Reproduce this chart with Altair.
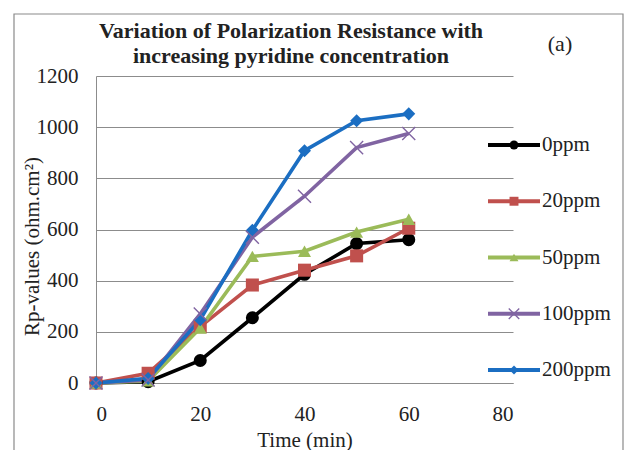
import altair as alt
import pandas as pd

# Polarization resistance (Rp) over time for each pyridine concentration
time_min = [0, 10, 20, 30, 40, 50, 60]
rp_0ppm = [0, 5, 88, 255, 425, 545, 560]
rp_20ppm = [0, 38, 220, 383, 441, 497, 605]
rp_50ppm = [0, 8, 215, 495, 515, 590, 640]
rp_100ppm = [0, 12, 270, 570, 730, 920, 975]
rp_200ppm = [0, 18, 247, 597, 908, 1025, 1052]

series_names = ["0ppm", "20ppm", "50ppm", "100ppm", "200ppm"]
series_values = [rp_0ppm, rp_20ppm, rp_50ppm, rp_100ppm, rp_200ppm]
series_colors = ["#000000", "#C0504D", "#9BBB59", "#8064A2", "#1B6EC2"]
x_cross = "M-1,-1L1,1M1,-1L-1,1"
series_shapes = ["circle", "square", "triangle-up", x_cross, "diamond"]
marker_sizes = [170, 170, 190, 300, 230]

rows = []
for name, vals in zip(series_names, series_values):
    for t, v in zip(time_min, vals):
        rows.append({"series": name, "time": t, "rp": v})
df = pd.DataFrame(rows)
legend_df = pd.DataFrame({"series": series_names})

FONT = "Liberation Serif"
GRID = "#8c8c8c"
INK = "#222222"

color = alt.Color("series:N", scale=alt.Scale(domain=series_names, range=series_colors), legend=None)
shape = alt.Shape("series:N", scale=alt.Scale(domain=series_names, range=series_shapes), legend=None)
size = alt.Size("series:N", scale=alt.Scale(domain=series_names, range=marker_sizes), legend=None)

x_enc = alt.X(
    "time:Q",
    scale=alt.Scale(domain=[0, 80], nice=False),
    axis=alt.Axis(
        values=[0, 20, 40, 60, 80], format="d", grid=False, ticks=False, domainColor=GRID,
        labelFont=FONT, labelFontSize=21, labelColor=INK, labelPadding=20,
        title="Time (min)", titleFont=FONT, titleFontSize=21, titleFontWeight="normal",
        titleColor=INK, titleY=57, titleBaseline="middle",
    ),
)
y_enc = alt.Y(
    "rp:Q",
    scale=alt.Scale(domain=[0, 1200], nice=False),
    axis=alt.Axis(
        values=[0, 200, 400, 600, 800, 1000, 1200], format="d", grid=True, gridColor=GRID,
        ticks=False, domainColor=GRID, labelFont=FONT, labelFontSize=21,
        labelColor=INK, labelPadding=18,
        title="Rp-values (ohm.cm²)", titleFont=FONT, titleFontSize=21,
        titleFontWeight="normal", titleColor=INK, titleX=-64, titleY=170,
        titleBaseline="middle", titleAnchor="middle",
    ),
)

lines = alt.Chart(df).mark_line(strokeWidth=3.6).encode(x=x_enc, y=y_enc, color=color)
points = (
    alt.Chart(df)
    .transform_filter(alt.datum.series != "100ppm")
    .mark_point(filled=True, opacity=1)
    .encode(x="time:Q", y="rp:Q", color=color, shape=shape, size=size)
)
crosses = (
    alt.Chart(df)
    .transform_filter(alt.datum.series == "100ppm")
    .mark_point(filled=False, strokeWidth=1.4, opacity=1)
    .encode(x="time:Q", y="rp:Q", color=color, shape=shape, size=size)
)
main = alt.layer(lines, points, crosses)

# Legend on the right: short line with marker, then the label
leg_y = alt.Y(
    "series:N",
    scale=alt.Scale(type="point", domain=series_names, range=[69, 294], padding=0),
    axis=None,
)
leg_rule = alt.Chart(legend_df).mark_rule(strokeWidth=4).encode(
    x=alt.value(392), x2=alt.value(444), y=leg_y, color=color
)
leg_pts = (
    alt.Chart(legend_df)
    .transform_filter(alt.datum.series != "100ppm")
    .mark_point(filled=True, size=80, opacity=1)
    .encode(x=alt.value(418), y=leg_y, color=color, shape=shape)
)
leg_cross = (
    alt.Chart(legend_df)
    .transform_filter(alt.datum.series == "100ppm")
    .mark_point(filled=False, size=110, strokeWidth=1.3, opacity=1)
    .encode(x=alt.value(418), y=leg_y, color=color, shape=shape)
)
leg_text = alt.Chart(legend_df).mark_text(
    align="left", baseline="middle", font=FONT, fontSize=21, color=INK
).encode(x=alt.value(446), y=leg_y, text="series:N")
legend = alt.layer(leg_rule, leg_pts, leg_cross, leg_text)

# Outer frame, title lines and panel tag
one = pd.DataFrame({"k": [0]})
frame = alt.Chart(one).mark_rect(fillOpacity=0, stroke="#8a8a8a", strokeWidth=1.2).encode(
    x=alt.value(-82), x2=alt.value(527), y=alt.value(-62), y2=alt.value(400)
)
title1 = alt.Chart(one).mark_text(
    font=FONT, fontSize=22, fontWeight="bold", color=INK, baseline="middle"
).encode(x=alt.value(195), y=alt.value(-45), text=alt.value("Variation of Polarization Resistance with"))
title2 = alt.Chart(one).mark_text(
    font=FONT, fontSize=22, fontWeight="bold", color=INK, baseline="middle"
).encode(x=alt.value(195), y=alt.value(-20), text=alt.value("increasing pyridine concentration"))
tag = alt.Chart(one).mark_text(
    font=FONT, fontSize=22, color=INK, baseline="middle"
).encode(x=alt.value(464), y=alt.value(-32), text=alt.value("(a)"))
deco = alt.layer(frame, title1, title2, tag)

chart = (
    alt.layer(main, legend, deco)
    .resolve_scale(y="independent")
    .properties(
        width=417,
        height=307,
        padding={"left": 96, "top": 76, "right": 116, "bottom": 67},
        autosize=alt.AutoSizeParams(type="none"),
        background="white",
    )
    .configure_view(stroke=None)
)

chart.save("out.html", embed_options={"renderer": "svg", "actions": False})
